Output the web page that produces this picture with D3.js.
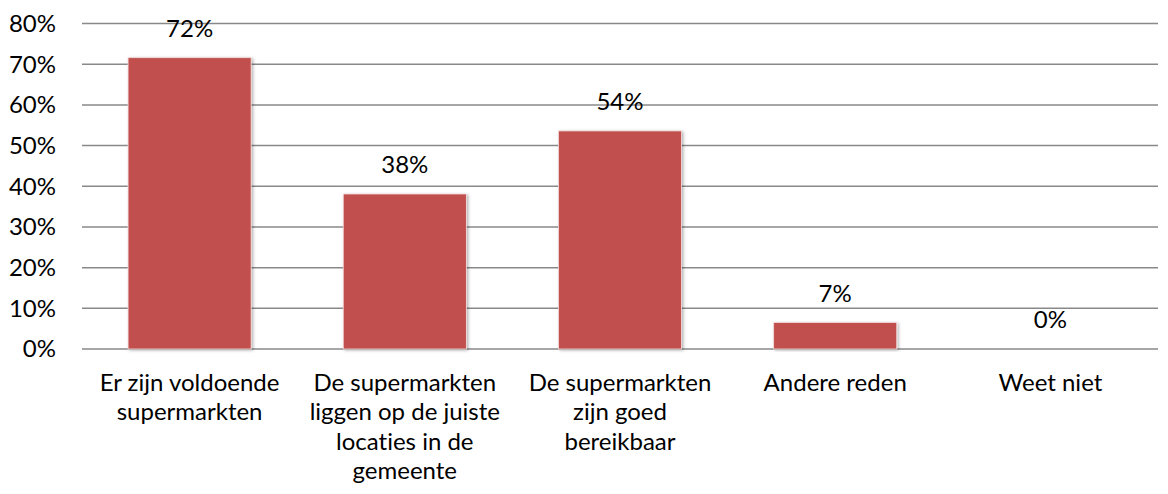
<!DOCTYPE html>
<html>
<head>
<meta charset="utf-8">
<script src="https://cdn.jsdelivr.net/npm/d3@7"></script>
<style>
  body { margin: 0; background: #fff; }
  svg text { font-family: Lato, sans-serif; fill: #000; font-variant-ligatures: none; }
</style>
</head>
<body>
<svg id="chart" width="1168" height="494"></svg>
<script>
// categories (already split the way the chart wraps them)
const categories = [
  ["Er zijn voldoende", "supermarkten"],
  ["De supermarkten", "liggen op de juiste", "locaties in de", "gemeente"],
  ["De supermarkten", "zijn goed", "bereikbaar"],
  ["Andere reden"],
  ["Weet niet"]
];
const values = [71.6, 38.1, 53.6, 6.5, 0];
const valueLabels = ["72%", "38%", "54%", "7%", "0%"];
const yTicks = [0, 10, 20, 30, 40, 50, 60, 70, 80];

const fontSize = "24px";

const svg = d3.select("#chart");
const margin = {top: 23.5, right: 10, bottom: 145, left: 82};
const width = 1168 - margin.left - margin.right;
const height = 494 - margin.top - margin.bottom;

const defs = svg.append("defs");
const shadow = defs.append("filter").attr("id", "shadow")
  .attr("x", "-10%").attr("y", "-10%").attr("width", "120%").attr("height", "120%");
shadow.append("feDropShadow")
  .attr("dx", 1.5).attr("dy", 1).attr("stdDeviation", 1.5)
  .attr("flood-color", "#000").attr("flood-opacity", 0.3);

const g = svg.append("g").attr("transform", `translate(${margin.left},${margin.top})`);

const x = d3.scaleBand().domain(d3.range(categories.length)).range([0, width]).padding(0);
const y = d3.scaleLinear().domain([0, 80]).range([height, 0]);
const barW = x.bandwidth() * 0.572;

// gridlines
g.append("g").selectAll("line").data(yTicks).join("line")
  .attr("x1", 0).attr("x2", width)
  .attr("y1", d => y(d)).attr("y2", d => y(d))
  .attr("stroke", "#898989").attr("stroke-width", 1.5);

// y tick labels
g.append("g").selectAll("text").data(yTicks).join("text")
  .attr("x", -26).attr("y", d => y(d)).attr("dy", "0.35em")
  .attr("text-anchor", "end").style("font-size", fontSize)
  .text(d => d + "%");

// bars
g.append("g").selectAll("rect").data(values).join("rect")
  .attr("x", (d, i) => x(i) + (x.bandwidth() - barW) / 2)
  .attr("y", d => y(d))
  .attr("width", barW)
  .attr("height", d => height - y(d))
  .attr("fill", "#C0504D")
  .attr("stroke", "#f3dede").attr("stroke-width", 0.8)
  .attr("filter", "url(#shadow)");

// value labels
g.append("g").selectAll("text").data(values).join("text")
  .attr("x", (d, i) => x(i) + x.bandwidth() / 2)
  .attr("y", d => y(d) - 21)
  .attr("text-anchor", "middle").style("font-size", fontSize)
  .text((d, i) => valueLabels[i]);

// category labels
const cat = g.append("g").selectAll("text").data(categories).join("text")
  .attr("text-anchor", "middle").style("font-size", fontSize)
  .attr("transform", (d, i) => `translate(${x(i) + x.bandwidth() / 2},${height + 42})`);
cat.selectAll("tspan").data(d => d).join("tspan")
  .attr("x", 0).attr("y", (d, j) => j * 29.3)
  .text(d => d);
</script>
</body>
</html>
